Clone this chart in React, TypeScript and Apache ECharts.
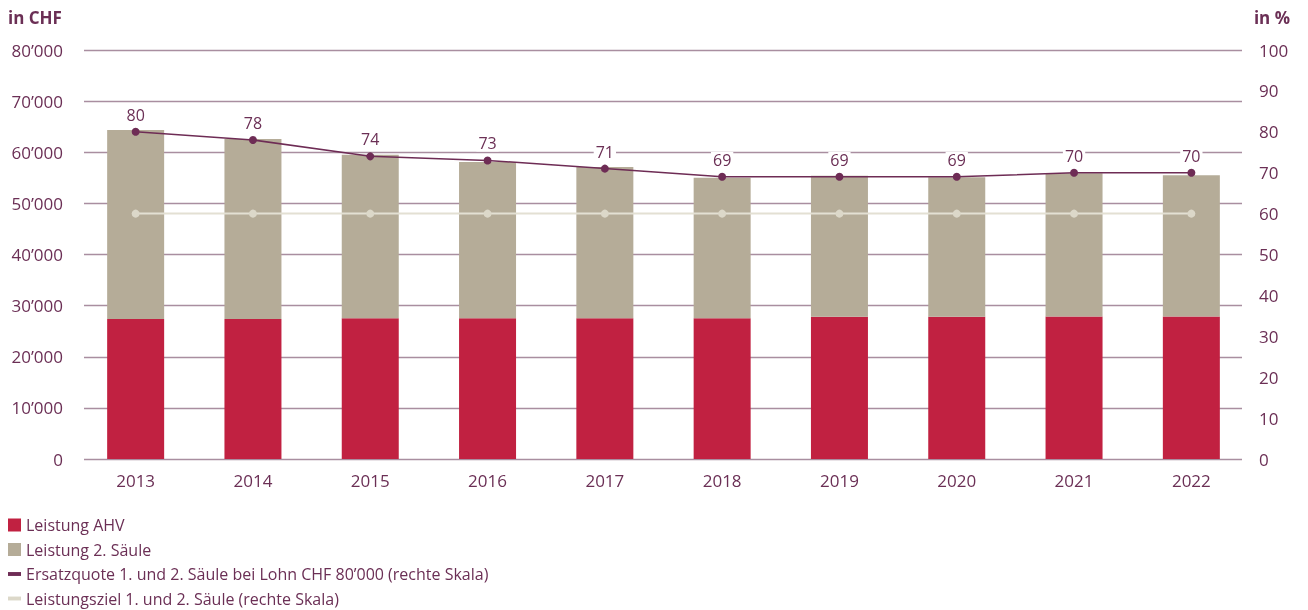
import React, { useEffect, useRef } from "react";
import * as echarts from "echarts";

const years = ["2013", "2014", "2015", "2016", "2017", "2018", "2019", "2020", "2021", "2022"];
const leistungAHV = [27400, 27400, 27550, 27550, 27550, 27550, 27800, 27800, 27850, 27850];
const leistung2Saeule = [36950, 35200, 31950, 30550, 29550, 27450, 27600, 27300, 28050, 27650];
const ersatzquote = [80, 78, 74, 73, 71, 69, 69, 69, 70, 70];
const leistungsziel = [60, 60, 60, 60, 60, 60, 60, 60, 60, 60];

const TEXT = "#6b2f55";
const GRID = "#a98ea0";
const FONT = "'Open Sans', sans-serif";

const fmt = (v: number) => String(v).replace(/\B(?=(\d{3})+(?!\d))/g, "\u2019");

export default function App() {
  const ref = useRef<HTMLDivElement>(null);
  useEffect(() => {
    if (!ref.current) return;
    const chart = echarts.init(ref.current, undefined, { renderer: "svg" });
    const top = 50;
    const bottom = 610 - 459;
    chart.setOption({
      animation: false,
      textStyle: { fontFamily: FONT, color: TEXT },
      grid: [
        { left: 77, width: 1173, top, bottom },
        { left: 84, width: 1158, top, bottom },
      ],
      graphic: [
        { type: "text", left: 8, top: 9, style: { text: "in CHF", font: `bold 17px ${FONT}`, fill: TEXT } },
        { type: "text", right: 18, top: 9, style: { text: "in %", font: `bold 17px ${FONT}`, fill: TEXT } },
      ],
      legend: {
        orient: "vertical",
        left: 8,
        top: 516,
        padding: 0,
        itemWidth: 13,
        itemHeight: 13,
        itemGap: 6.5,
        selectedMode: false,
        textStyle: { fontFamily: FONT, fontSize: 16, color: TEXT, lineHeight: 18 },
        data: [
          { name: "Leistung AHV", icon: "rect" },
          { name: "Leistung 2. Säule", icon: "rect" },
          { name: "Ersatzquote 1. und 2. Säule bei Lohn CHF 80\u2019000 (rechte Skala)", icon: "path://M0,0h10v3h-10z" },
          { name: "Leistungsziel 1. und 2. Säule (rechte Skala)", icon: "path://M0,0h10v3h-10z" },
        ],
      },
      xAxis: [
        {
          type: "category",
          gridIndex: 0,
          data: years,
          axisLine: { show: false },
          axisTick: { show: false },
          axisLabel: { fontSize: 17, color: TEXT, margin: 13, fontFamily: FONT },
        },
        { type: "category", gridIndex: 1, data: years, show: false },
      ],
      yAxis: [
        { type: "value", gridIndex: 0, min: 0, max: 80000, interval: 10000, show: false },
        { type: "value", gridIndex: 0, min: 0, max: 100, interval: 10, show: false, position: "right" },
        {
          type: "value",
          gridIndex: 1,
          min: 0,
          max: 80000,
          interval: 10000,
          position: "left",
          axisLine: { show: false },
          axisTick: { show: false },
          axisLabel: { fontSize: 17, color: TEXT, margin: 21, fontFamily: FONT, formatter: (v: number) => fmt(v) },
          splitLine: { show: true, lineStyle: { color: GRID, width: 1.3 } },
        },
        {
          type: "value",
          gridIndex: 1,
          min: 0,
          max: 100,
          interval: 10,
          position: "right",
          axisLine: { show: false },
          axisTick: { show: false },
          axisLabel: { fontSize: 17, color: TEXT, margin: 17, fontFamily: FONT },
          splitLine: { show: false },
        },
      ],
      series: [
        {
          name: "Leistung AHV",
          type: "bar",
          stack: "total",
          xAxisIndex: 0,
          yAxisIndex: 0,
          barWidth: 57,
          data: leistungAHV,
          itemStyle: { color: "#c12141" },
        },
        {
          name: "Leistung 2. Säule",
          type: "bar",
          stack: "total",
          xAxisIndex: 0,
          yAxisIndex: 0,
          barWidth: 57,
          data: leistung2Saeule,
          itemStyle: { color: "#b5ac98" },
        },
        {
          name: "Leistungsziel 1. und 2. Säule (rechte Skala)",
          type: "line",
          xAxisIndex: 0,
          yAxisIndex: 1,
          data: leistungsziel,
          symbol: "circle",
          symbolSize: 8,
          lineStyle: { color: "#e3e0d3", width: 2 },
          itemStyle: { color: "#dcd8c9" },
          z: 3,
        },
        {
          name: "Ersatzquote 1. und 2. Säule bei Lohn CHF 80\u2019000 (rechte Skala)",
          type: "line",
          xAxisIndex: 0,
          yAxisIndex: 1,
          data: ersatzquote,
          symbol: "circle",
          symbolSize: 8,
          lineStyle: { color: "#6e2c55", width: 1.5 },
          itemStyle: { color: "#6e2c55" },
          label: {
            show: true,
            position: "top",
            distance: 5,
            fontSize: 16,
            fontFamily: FONT,
            color: TEXT,
            backgroundColor: "#ffffff",
            padding: [0, 2],
          },
          z: 4,
        },
      ],
    });
    return () => chart.dispose();
  }, []);
  return <div ref={ref} style={{ position: "fixed", left: 0, top: 0, width: 1308, height: 610 }} />;
}
